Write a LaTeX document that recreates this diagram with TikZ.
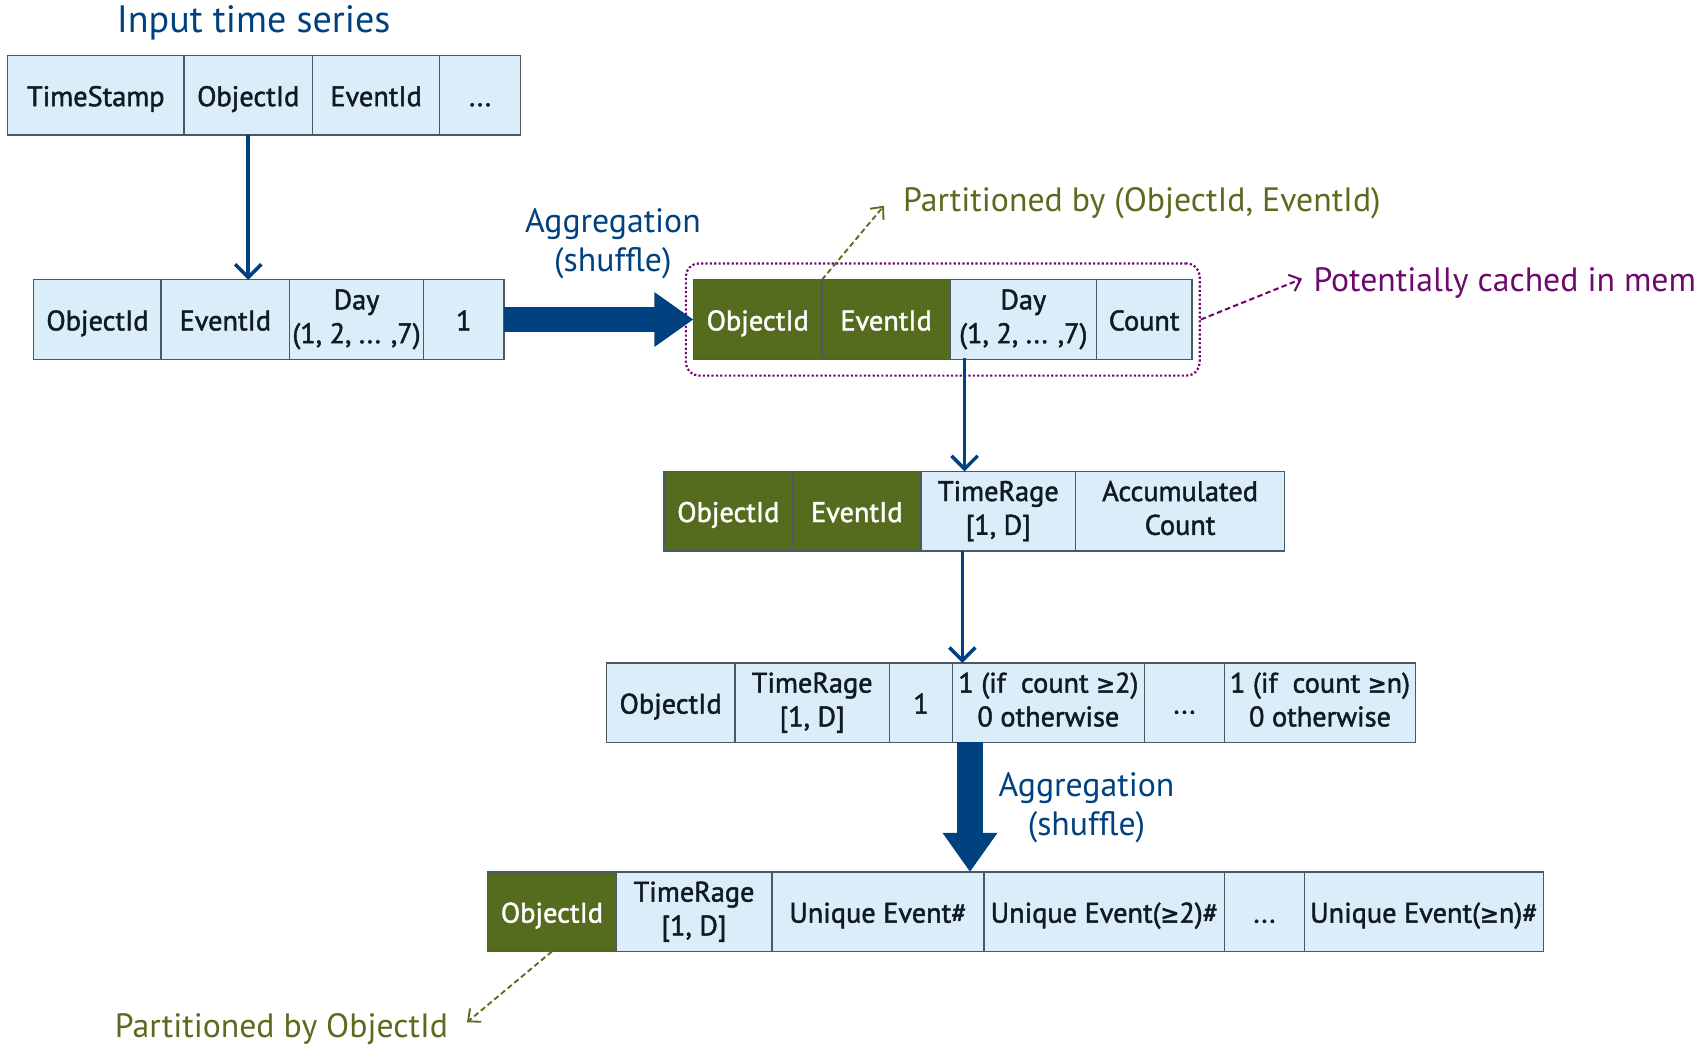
\documentclass[tikz,border=0pt]{standalone}
\usepackage{fontspec}
\setmainfont{PT Sans}
\newfontfamily\cellfnt{PT Sans}[FakeBold=1.6]
\newfontfamily\symfnt{DejaVu Sans Condensed}[FakeBold=1.6]
\newcommand{\gep}{{\symfnt\fontsize{23}{30}\selectfont ≥}}
\usetikzlibrary{arrows.meta,fit,calc}
\definecolor{cellfill}{HTML}{DAEDF8}
\definecolor{cellborder}{HTML}{4A5A62}
\definecolor{celltext}{HTML}{0F1A24}
\definecolor{darkblue}{HTML}{00427F}
\definecolor{olivefill}{HTML}{556B1E}
\definecolor{olivetext}{HTML}{5A6B1E}
\definecolor{cachepurple}{HTML}{6E0A6E}
\begin{document}
\begin{tikzpicture}[x=1pt,y=-1pt,
  cell/.style={draw=cellborder, line width=1.2pt, fill=cellfill, text=celltext,
    minimum height=73pt, inner sep=0pt, outer sep=0pt, anchor=north west, align=center,
    font=\cellfnt\fontsize{26}{31}\selectfont, execute at begin node={\rule[-6pt]{0pt}{32pt}}},
  gcell/.style={cell, fill=olivefill, text=white},
  lbl/.style={font=\fontsize{31}{36}\selectfont, align=center},
  thinarrow/.style={draw=darkblue, line width=3.2pt, -{Straight Barb[length=12pt,width=24pt,line width=3.2pt]}},
  bigarrow/.style={draw=darkblue, line width=23pt, -{Triangle[length=36pt,width=48pt]}},
  olivedash/.style={draw=olivetext, line width=1.7pt, dash pattern=on 5pt off 3pt,
    -{Straight Barb[length=9pt,width=16pt,line width=1.7pt]}},
  purpledash/.style={draw=cachepurple, line width=1.9pt, dash pattern=on 5pt off 3pt,
    -{Straight Barb[length=9pt,width=16pt,line width=1.9pt]}}
]
\useasboundingbox (0,0) rectangle (1568,961);

% title
\node[font=\fontsize{35}{40}\selectfont, text=darkblue] (title) at (233,21) {Input time series};

% row 1
\node[cell, minimum width=162pt] (r1a) at (7,51) {TimeStamp};
\node[cell, minimum width=118pt] (r1b) at (169,51) {ObjectId};
\node[cell, minimum width=117pt] (r1c) at (287,51) {EventId};
\node[cell, minimum width=74pt] (r1d) at (404,51) {...};

% row 2
\node[cell, minimum width=117pt] (r2a) at (31,257) {ObjectId};
\node[cell, minimum width=118pt] (r2b) at (148,257) {EventId};
\node[cell, minimum width=123pt] (r2c) at (266,257) {Day\\(1, 2, ... ,7)};
\node[cell, minimum width=74pt] (r2d) at (389,257) {1};

% row 3
\node[gcell, minimum width=118pt] (r3a) at (637,257) {ObjectId};
\node[gcell, minimum width=118pt] (r3b) at (755,257) {EventId};
\node[cell, minimum width=134pt] (r3c) at (873,257) {Day\\(1, 2, ... ,7)};
\node[cell, minimum width=88pt] (r3d) at (1007,257) {Count};

% row 4
\node[gcell, minimum width=118pt] (r4a) at (610,433) {ObjectId};
\node[gcell, minimum width=118pt] (r4b) at (728,433) {EventId};
\node[cell, minimum width=142pt] (r4c) at (846,433) {TimeRage\\{[1, D]}};
\node[cell, minimum width=192pt] (r4d) at (988,433) {Accumulated\\Count};

% row 5
\node[cell, minimum width=118pt] (r5a) at (557,609) {ObjectId};
\node[cell, minimum width=142pt] (r5b) at (675,609) {TimeRage\\{[1, D]}};
\node[cell, minimum width=58pt] (r5c) at (817,609) {1};
\node[cell, minimum width=176pt] (r5d) at (875,609) {1 (if~ count \gep2)\\0 otherwise};
\node[cell, minimum width=74pt] (r5e) at (1051,609) {...};
\node[cell, minimum width=175pt] (r5f) at (1125,609) {1 (if~ count \gep n)\\0 otherwise};

% row 6
\node[gcell, minimum width=118pt] (r6a) at (448,801) {ObjectId};
\node[cell, minimum width=143pt] (r6b) at (566,801) {TimeRage\\{[1, D]}};
\node[cell, minimum width=195pt] (r6c) at (709,801) {Unique Event\#};
\node[cell, minimum width=221pt] (r6d) at (904,801) {Unique Event(\gep2)\#};
\node[cell, minimum width=73pt] (r6e) at (1125,801) {...};
\node[cell, minimum width=220pt] (r6f) at (1198,801) {Unique Event(\gep n)\#};

% cache box
\node[draw=cachepurple, line width=2pt, dotted, rounded corners=12pt, fit=(r3a)(r3d),
  inner xsep=7pt, inner ysep=15pt] (cache) {};

% labels
\node[lbl, text=darkblue] (agg1) at (563,224) {Aggregation\\(shuffle)};
\node[lbl, text=darkblue] (agg2) at (998,742) {Aggregation\\(shuffle)};
\node[lbl, text=olivetext, anchor=west] (pbe) at (826,187) {Partitioned by (ObjectId, EventId)};
\node[lbl, text=cachepurple, anchor=west] (pcm) at (1203,260) {Potentially cached in mem};
\node[lbl, text=olivetext, anchor=east] (pbo) at (415,945) {Partitioned by ObjectId};

% connectors
\draw[thinarrow] (r1b.south) -- (r1b.south |- r2a.north);
\draw[bigarrow] (r2d.east) -- (r3a.west);
\coordinate (a2s) at (886,329);
\draw[thinarrow] (a2s) -- (a2s |- r4a.north);
\coordinate (a3s) at (884,506);
\draw[thinarrow] (a3s) -- (a3s |- r5a.north);
\coordinate (b2s) at (891,682);
\draw[bigarrow] (b2s) -- (b2s |- r6a.north);

\draw[olivedash] (r3a.north east) -- ([xshift=-14pt,yshift=-2pt]pbe.west);
\draw[purpledash] (cache.east) -- ([xshift=-7pt,yshift=4pt]pcm.west);
\draw[olivedash] (r6a.south) -- ([shift={(14,-6)}]pbo.east);
\end{tikzpicture}
\end{document}
